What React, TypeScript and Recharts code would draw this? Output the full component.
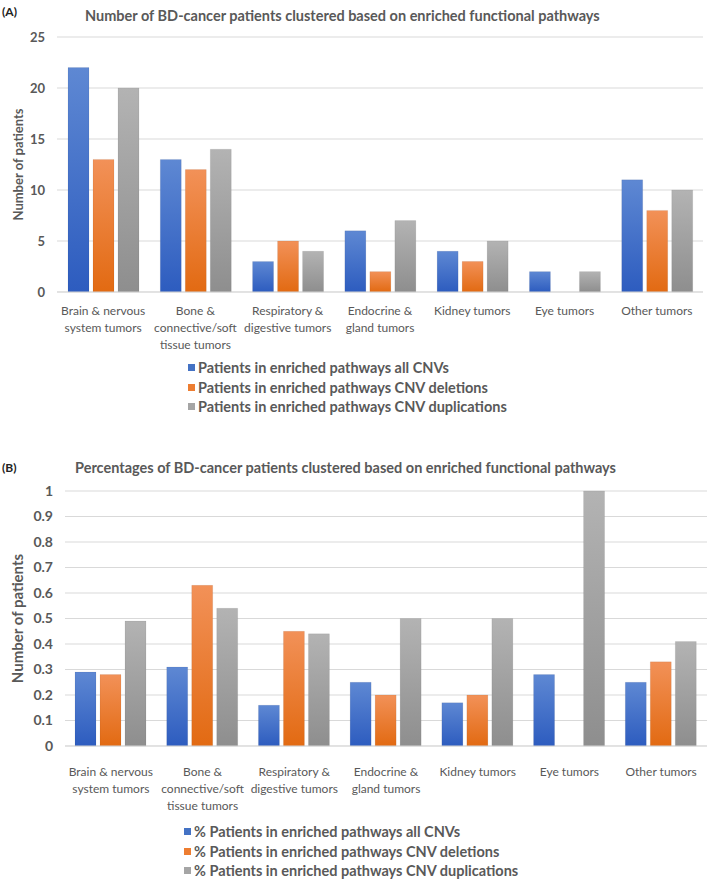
import React from 'react'
import { BarChart, Bar, XAxis, YAxis, CartesianGrid } from 'recharts'

const FONT = 'Lato, "Open Sans", sans-serif'
const INK = '#595959'
const GRID = '#D9D9D9'

const categories = [
  'Brain & nervous system tumors',
  'Bone & connective/soft tissue tumors',
  'Respiratory & digestive tumors',
  'Endocrine & gland tumors',
  'Kidney tumors',
  'Eye tumors',
  'Other tumors',
]

// (A) patient counts per tumour group
const allCnvCounts = [22, 13, 3, 6, 4, 2, 11]
const deletionCounts = [13, 12, 5, 2, 3, 0, 8]
const duplicationCounts = [20, 14, 4, 7, 5, 2, 10]
const countTicks = [0, 5, 10, 15, 20, 25]

// (B) same groups as fractions of patients
const allCnvShares = [0.29, 0.31, 0.16, 0.25, 0.17, 0.28, 0.25]
const deletionShares = [0.28, 0.63, 0.45, 0.2, 0.2, 0, 0.33]
const duplicationShares = [0.49, 0.54, 0.44, 0.5, 0.5, 1, 0.41]
const shareTicks = [0, 0.1, 0.2, 0.3, 0.4, 0.5, 0.6, 0.7, 0.8, 0.9, 1]

const seriesNames = [
  'Patients in enriched pathways all CNVs',
  'Patients in enriched pathways CNV deletions',
  'Patients in enriched pathways CNV duplications',
]

const palette = [
  { key: 'all', top: '#5E88D3', bottom: '#2D5CBF', swatch: '#4472C4' },
  { key: 'del', top: '#F29158', bottom: '#E26A12', swatch: '#ED7D31' },
  { key: 'dup', top: '#B3B3B3', bottom: '#8E8E8E', swatch: '#A5A5A5' },
]

const countRows = categories.map((name, i) => ({
  name,
  all: allCnvCounts[i],
  del: deletionCounts[i],
  dup: duplicationCounts[i],
}))

const shareRows = categories.map((name, i) => ({
  name,
  all: allCnvShares[i],
  del: deletionShares[i],
  dup: duplicationShares[i],
}))

// greedy word wrap, roughly one category band wide
function wrap(label: string, maxChars = 16) {
  const lines: string[] = []
  let line = ''
  for (const w of label.split(' ')) {
    const next = line ? line + ' ' + w : w
    if (next.length > maxChars && line) {
      lines.push(line)
      line = w
    } else {
      line = next
    }
  }
  if (line) lines.push(line)
  return lines
}

function CategoryTick(props: any) {
  const { x, y, payload } = props
  return (
    <text x={x} y={y} textAnchor="middle" fill={INK} fontSize={12} fontFamily={FONT}>
      {wrap(payload.value).map((l, i) => (
        <tspan key={i} x={x} dy={i === 0 ? 12 : 17}>
          {l}
        </tspan>
      ))}
    </text>
  )
}

function Legend({ prefix, top, left }: { prefix: string; top: number; left: number }) {
  return (
    <div style={{ position: 'absolute', top, left, fontFamily: FONT }}>
      {seriesNames.map((s, i) => (
        <div key={s} style={{ display: 'flex', alignItems: 'center', height: 19.5 }}>
          <span
            style={{ width: 7, height: 7, background: palette[i].swatch, marginRight: 3, display: 'inline-block' }}
          />
          <span style={{ fontSize: 14.5, fontWeight: 700, color: INK }}>{prefix + s}</span>
        </div>
      ))}
    </div>
  )
}

interface PanelProps {
  tag: string
  tagTop: number
  title: string
  titleLeft: number
  rows: typeof countRows
  ticks: number[]
  top: number
  plotTop: number
  plotBottom: number
  plotLeft: number
  plotRight: number
  tickSize: number
  labelSize: number
  labelGap: number
  gid: string
  legendPrefix: string
  legendTop: number
  legendLeft: number
}

function Panel(p: PanelProps) {
  const height = 375
  return (
    <div style={{ position: 'absolute', top: p.top, left: 0, width: 709, height: 440 }}>
      <div
        style={{ position: 'absolute', left: 2, top: p.tagTop, fontFamily: FONT, fontSize: 12, fontWeight: 700, color: '#222' }}
      >
        {p.tag}
      </div>
      <div
        style={{ position: 'absolute', left: p.titleLeft, top: 7, fontFamily: FONT, fontSize: 14.5, fontWeight: 700, color: INK, whiteSpace: 'nowrap' }}
      >
        {p.title}
      </div>
      <div style={{ position: 'absolute', left: 0, top: 0 }}>
        <BarChart
          width={709}
          height={height}
          data={p.rows}
          margin={{ top: p.plotTop, right: 709 - p.plotRight, bottom: 0, left: 0 }}
          barSize={21}
          barGap={4}
        >
          <defs>
            {palette.map((c) => (
              <linearGradient key={c.key} id={`${p.gid}-${c.key}`} x1="0" y1="0" x2="0" y2="1">
                <stop offset="0%" stopColor={c.top} />
                <stop offset="100%" stopColor={c.bottom} />
              </linearGradient>
            ))}
          </defs>
          <CartesianGrid vertical={false} stroke={GRID} />
          <XAxis
            dataKey="name"
            interval={0}
            height={height - p.plotBottom}
            axisLine={{ stroke: GRID }}
            tickLine={false}
            tickSize={0}
            tickMargin={p.labelGap}
            tick={<CategoryTick />}
          />
          <YAxis
            width={p.plotLeft}
            domain={[0, p.ticks[p.ticks.length - 1]]}
            ticks={p.ticks}
            interval={0}
            axisLine={false}
            tickLine={false}
            tickSize={0}
            tickMargin={12}
            tick={{ fill: INK, fontSize: p.tickSize, fontWeight: 700, fontFamily: FONT }}
            label={{
              value: 'Number of patients',
              angle: -90,
              position: 'insideLeft',
              offset: 18,
              fill: INK,
              style: { textAnchor: 'middle', fontSize: p.labelSize, fontWeight: 700, fontFamily: FONT },
            }}
          />
          {palette.map((c) => (
            <Bar
              key={c.key}
              dataKey={c.key}
              fill={`url(#${p.gid}-${c.key})`}
              stroke="rgba(0,0,0,0.06)"
              isAnimationActive={false}
            />
          ))}
        </BarChart>
      </div>
      <Legend prefix={p.legendPrefix} top={p.legendTop} left={p.legendLeft} />
    </div>
  )
}

export default function App() {
  return (
    <div style={{ position: 'absolute', top: 0, left: 0, width: 709, height: 880, background: '#fff' }}>
      <Panel
        tag="(A)"
        tagTop={4}
        title="Number of BD-cancer patients clustered based on enriched functional pathways"
        titleLeft={85}
        rows={countRows}
        ticks={countTicks}
        top={0}
        plotTop={37}
        plotBottom={292}
        plotLeft={57}
        plotRight={703}
        tickSize={13}
        labelSize={13}
        labelGap={11}
        gid="cnt"
        legendPrefix=""
        legendTop={358}
        legendLeft={188}
      />
      <Panel
        tag="(B)"
        tagTop={8}
        title="Percentages of BD-cancer patients clustered based on enriched functional pathways"
        titleLeft={75}
        rows={shareRows}
        ticks={shareTicks}
        top={452}
        plotTop={39}
        plotBottom={294}
        plotLeft={65}
        plotRight={707}
        tickSize={14}
        labelSize={15}
        labelGap={18}
        gid="pct"
        legendPrefix="% "
        legendTop={370}
        legendLeft={184}
      />
    </div>
  )
}
